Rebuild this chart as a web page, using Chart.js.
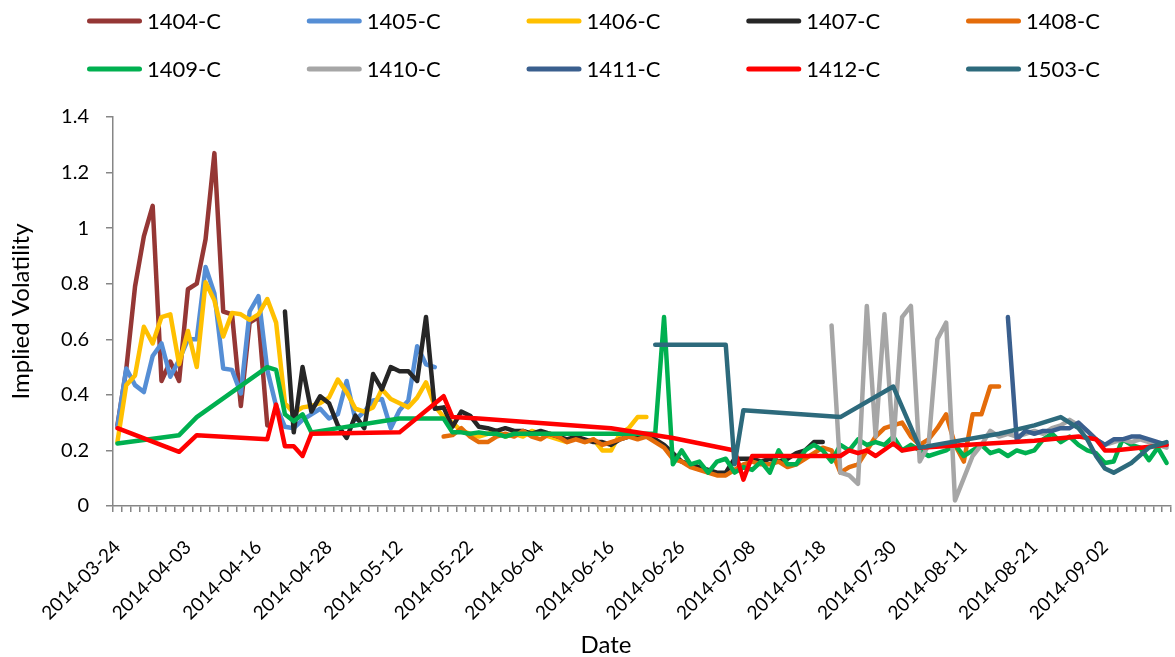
<!DOCTYPE html>
<html>
<head>
<meta charset="utf-8">
<script src="https://cdn.jsdelivr.net/npm/chart.js@4.4.0/dist/chart.umd.min.js"></script>
<style>
  html, body { margin: 0; padding: 0; background: #fff; }
  #wrap { width: 1175px; height: 657px; }
</style>
</head>
<body>
<div id="wrap"><canvas id="chart" width="1175" height="657"></canvas></div>
<script>
// trading days shown on the category axis
const dates = [
  '2014-03-24','2014-03-25','2014-03-26','2014-03-27','2014-03-28','2014-03-31','2014-04-01','2014-04-02',
  '2014-04-03','2014-04-04','2014-04-08','2014-04-09','2014-04-10','2014-04-11','2014-04-14','2014-04-15',
  '2014-04-16','2014-04-17','2014-04-18','2014-04-21','2014-04-22','2014-04-23','2014-04-24','2014-04-25',
  '2014-04-28','2014-04-29','2014-04-30','2014-05-05','2014-05-06','2014-05-07','2014-05-08','2014-05-09',
  '2014-05-12','2014-05-13','2014-05-14','2014-05-15','2014-05-16','2014-05-19','2014-05-20','2014-05-21',
  '2014-05-22','2014-05-23','2014-05-26','2014-05-27','2014-05-28','2014-05-29','2014-05-30','2014-06-03',
  '2014-06-04','2014-06-05','2014-06-06','2014-06-09','2014-06-10','2014-06-11','2014-06-12','2014-06-13',
  '2014-06-16','2014-06-17','2014-06-18','2014-06-19','2014-06-20','2014-06-23','2014-06-24','2014-06-25',
  '2014-06-26','2014-06-27','2014-06-30','2014-07-01','2014-07-02','2014-07-03','2014-07-04','2014-07-07',
  '2014-07-08','2014-07-09','2014-07-10','2014-07-11','2014-07-14','2014-07-15','2014-07-16','2014-07-17',
  '2014-07-18','2014-07-21','2014-07-22','2014-07-23','2014-07-24','2014-07-25','2014-07-28','2014-07-29',
  '2014-07-30','2014-07-31','2014-08-01','2014-08-04','2014-08-05','2014-08-06','2014-08-07','2014-08-08',
  '2014-08-11','2014-08-12','2014-08-13','2014-08-14','2014-08-15','2014-08-18','2014-08-19','2014-08-20',
  '2014-08-21','2014-08-22','2014-08-25','2014-08-26','2014-08-27','2014-08-28','2014-08-29','2014-09-01',
  '2014-09-02','2014-09-03','2014-09-04','2014-09-05','2014-09-09','2014-09-10','2014-09-11','2014-09-12'
];
const labelEvery = 8;

// each series starts at the date index given in its *_start value; null = no quote that day
const c1404_start = 0;
const c1404 = [0.29,0.49,0.79,0.97,1.08,0.45,0.52,0.45,0.78,0.80,0.96,1.27,0.70,0.69,0.36,0.66,0.68,0.29];

const c1405_start = 0;
const c1405 = [0.285,0.495,0.435,0.41,0.54,0.585,0.465,0.525,0.60,0.60,0.86,0.765,0.495,0.49,0.405,0.70,0.755,0.49,
  0.36,0.285,0.28,0.31,0.33,0.35,0.315,0.33,0.45,0.31,0.34,0.38,0.385,0.28,0.345,0.38,0.575,0.51,0.50];

const c1406_start = 0;
const c1406 = [0.23,0.435,0.47,0.645,0.585,0.68,0.69,0.51,0.63,0.50,0.805,0.74,0.61,0.695,0.69,0.67,0.69,0.745,0.66,
  0.37,0.335,0.355,0.36,0.37,0.39,0.455,0.41,0.35,0.34,0.355,0.42,0.385,0.37,0.355,0.39,0.445,0.36,0.32,0.30,0.27,
  0.26,0.25,0.26,0.27,0.25,0.26,0.25,0.27,0.26,0.25,0.24,0.23,0.25,0.23,0.24,0.20,0.20,0.26,0.28,0.32,0.32];

const c1407_start = 19;
const c1407 = [0.70,0.265,0.50,0.34,0.395,0.37,0.29,0.245,0.325,0.28,0.475,0.42,0.50,0.485,0.485,0.45,0.68,0.35,0.355,
  0.285,0.34,0.325,0.285,0.28,0.27,0.28,0.27,0.27,0.26,0.27,0.26,0.25,0.24,0.25,0.24,0.23,0.23,0.22,0.24,0.25,0.25,
  0.25,0.24,0.22,0.19,0.16,0.15,0.14,0.13,0.12,0.12,0.17,0.17,0.17,0.16,0.17,0.16,0.17,0.19,0.20,0.23,0.23];

const c1408_start = 37;
const c1408 = [0.25,0.255,0.28,0.25,0.23,0.23,0.25,0.26,0.25,0.27,0.25,0.24,0.26,0.25,0.23,0.24,0.23,0.24,0.22,0.23,
  0.24,0.25,0.24,0.25,0.23,0.21,0.17,0.16,0.14,0.13,0.12,0.11,0.11,0.13,0.15,0.16,0.15,0.15,0.16,0.14,0.15,0.17,
  0.19,0.21,0.20,0.12,0.14,0.15,0.20,0.25,0.28,0.29,0.30,0.25,0.22,0.24,0.28,0.33,0.22,0.16,0.33,0.33,0.43,0.43];

const c1409_start = 0;
const c1409 = [0.225,null,null,null,null,null,null,0.255,null,0.32,null,null,null,null,null,null,null,0.50,0.49,0.33,
  0.305,0.33,0.265,null,null,null,null,null,null,null,null,null,0.315,null,null,null,null,0.315,0.265,0.265,
  0.26,0.265,0.26,0.26,0.25,0.26,0.26,0.26,0.26,0.26,0.26,0.26,0.26,0.26,0.26,0.26,0.26,0.26,0.26,0.26,
  0.26,0.26,0.68,0.15,0.20,0.15,0.16,0.12,0.16,0.17,0.12,0.14,0.13,0.16,0.12,0.20,0.15,0.15,0.20,0.22,
  0.20,0.16,0.22,0.20,0.24,0.22,0.23,0.22,0.25,0.20,0.22,0.20,0.18,0.19,0.20,0.22,0.18,0.20,0.22,0.19,
  0.20,0.18,0.20,0.19,0.20,0.24,0.26,0.23,0.25,0.22,0.20,0.19,0.155,0.16,0.24,0.22,0.21,0.165,0.21,0.155];

const c1410_start = 81;
const c1410 = [0.65,0.12,0.11,0.08,0.72,0.25,0.69,0.22,0.68,0.72,0.16,0.22,0.60,0.66,0.02,0.10,0.18,0.22,0.27,0.25,
  0.26,0.25,0.26,0.27,0.26,0.28,0.29,0.31,0.29,0.27,0.24,0.22,0.23,0.24,0.23,0.24,0.23,0.22,0.21];

const c1411_start = 101;
const c1411 = [0.68,0.24,0.27,0.26,0.27,0.27,0.28,0.28,0.30,0.27,0.24,0.22,0.24,0.24,0.25,0.25,0.24,0.23,0.22];

const c1412_start = 0;
const c1412 = [0.28,null,null,null,null,null,null,0.195,null,0.255,null,null,null,null,null,null,null,0.24,0.365,0.215,
  0.215,0.18,0.26,null,null,null,null,null,null,null,null,null,0.265,null,null,null,null,0.395,0.32,null,
  null,0.315,null,null,null,null,null,null,null,null,null,null,null,null,null,null,0.28,null,null,null,
  null,null,null,0.245,null,null,null,null,null,null,0.20,0.095,0.18,null,null,null,null,null,null,null,
  null,null,0.18,0.20,0.19,0.20,0.18,null,0.225,0.20,null,0.21,null,null,null,null,null,null,null,null,
  null,null,null,null,0.235,null,null,null,null,0.25,null,0.24,0.20,0.20,null,null,0.21,null,null,0.22];

const c1503_start = 61;
const c1503 = [0.58,null,null,null,null,null,null,null,0.58,0.15,0.345,null,null,null,null,null,null,null,null,null,
  null,0.32,null,null,null,null,null,0.43,null,null,0.21,null,null,null,null,null,null,null,null,0.26,
  null,null,null,0.29,null,null,0.32,null,0.28,0.24,0.18,0.135,0.12,null,0.155,null,0.21,null,0.23];

const seriesNames = ['1404-C','1405-C','1406-C','1407-C','1408-C','1409-C','1410-C','1411-C','1412-C','1503-C'];
const seriesValues = [c1404, c1405, c1406, c1407, c1408, c1409, c1410, c1411, c1412, c1503];
const seriesStarts = [c1404_start, c1405_start, c1406_start, c1407_start, c1408_start,
  c1409_start, c1410_start, c1411_start, c1412_start, c1503_start];
const seriesColors = ['#953735','#558ED5','#FFC000','#262626','#E46C0A','#00B050','#A6A6A6','#3A5F8E','#FF0000','#2D6A7C'];

function placeOnDates(vals, start) {
  const row = new Array(dates.length).fill(null);
  vals.forEach((v, k) => { row[start + k] = v; });
  return row;
}

// Excel-style legend: two rows of five, long line swatch
const legendLines = {
  id: 'legendLines',
  afterDraw(c) {
    const ctx = c.ctx;
    ctx.save();
    ctx.font = '22px Lato';
    ctx.textBaseline = 'middle';
    ctx.textAlign = 'left';
    c.data.datasets.forEach((ds, i) => {
      const x = 87 + (i % 5) * 219.75;
      const y = 21 + Math.floor(i / 5) * 48;
      ctx.strokeStyle = ds.borderColor;
      ctx.lineWidth = 5;
      ctx.lineCap = 'round';
      ctx.beginPath();
      ctx.moveTo(x + 2.5, y);
      ctx.lineTo(x + 52.5, y);
      ctx.stroke();
      ctx.fillStyle = '#000';
      ctx.fillText(ds.label, x + 60, y + 1);
    });
    ctx.font = '24px Lato';
    ctx.textAlign = 'center';
    ctx.fillText('Date', 606, 645);
    ctx.restore();
  }
};

Chart.defaults.font.family = 'Lato';
Chart.defaults.color = '#000';

const ctx = document.getElementById('chart').getContext('2d');
const chart = new Chart(ctx, {
  type: 'line',
  data: {
    labels: dates,
    datasets: seriesNames.map((name, i) => ({
      label: name,
      data: placeOnDates(seriesValues[i], seriesStarts[i]),
      borderColor: seriesColors[i],
      backgroundColor: seriesColors[i],
      borderWidth: 4.5,
      pointRadius: 0,
      tension: 0,
      spanGaps: true,
      borderJoinStyle: 'round',
      borderCapStyle: 'round',
      order: seriesNames.length - i
    }))
  },
  options: {
    responsive: false,
    animation: false,
    layout: { padding: { top: 117, right: 4, left: 0, bottom: 0 } },
    plugins: {
      legend: { display: false },
      tooltip: { enabled: false }
    },
    scales: {
      x: {
        offset: true,
        grid: { offset: true, drawOnChartArea: false, drawTicks: true, tickLength: 6, color: '#868686', lineWidth: 1.5 },
        border: { display: true, color: '#868686', width: 1.5 },
        ticks: {
          autoSkip: false,
          minRotation: 45,
          maxRotation: 45,
          padding: 24,
          font: { size: 19 },
          callback: (v, idx) => (idx % labelEvery === 0 ? dates[idx] : '')
        },
        afterFit: (s) => { s.height = 151; s.paddingLeft = 0; s.paddingRight = 0; }
      },
      y: {
        min: 0,
        max: 1.4,
        grid: { drawOnChartArea: false, drawTicks: true, tickLength: 7, color: '#868686', lineWidth: 1.5 },
        border: { display: true, color: '#868686', width: 1.5 },
        ticks: {
          stepSize: 0.2,
          padding: 17,
          font: { size: 20 },
          callback: (v) => String(+v.toFixed(1))
        },
        title: { display: true, text: 'Implied Volatility', font: { size: 24 }, padding: { top: 7, bottom: 0 } },
        afterFit: (s) => { s.width = 113; }
      }
    }
  },
  plugins: [legendLines]
});
</script>
</body>
</html>
